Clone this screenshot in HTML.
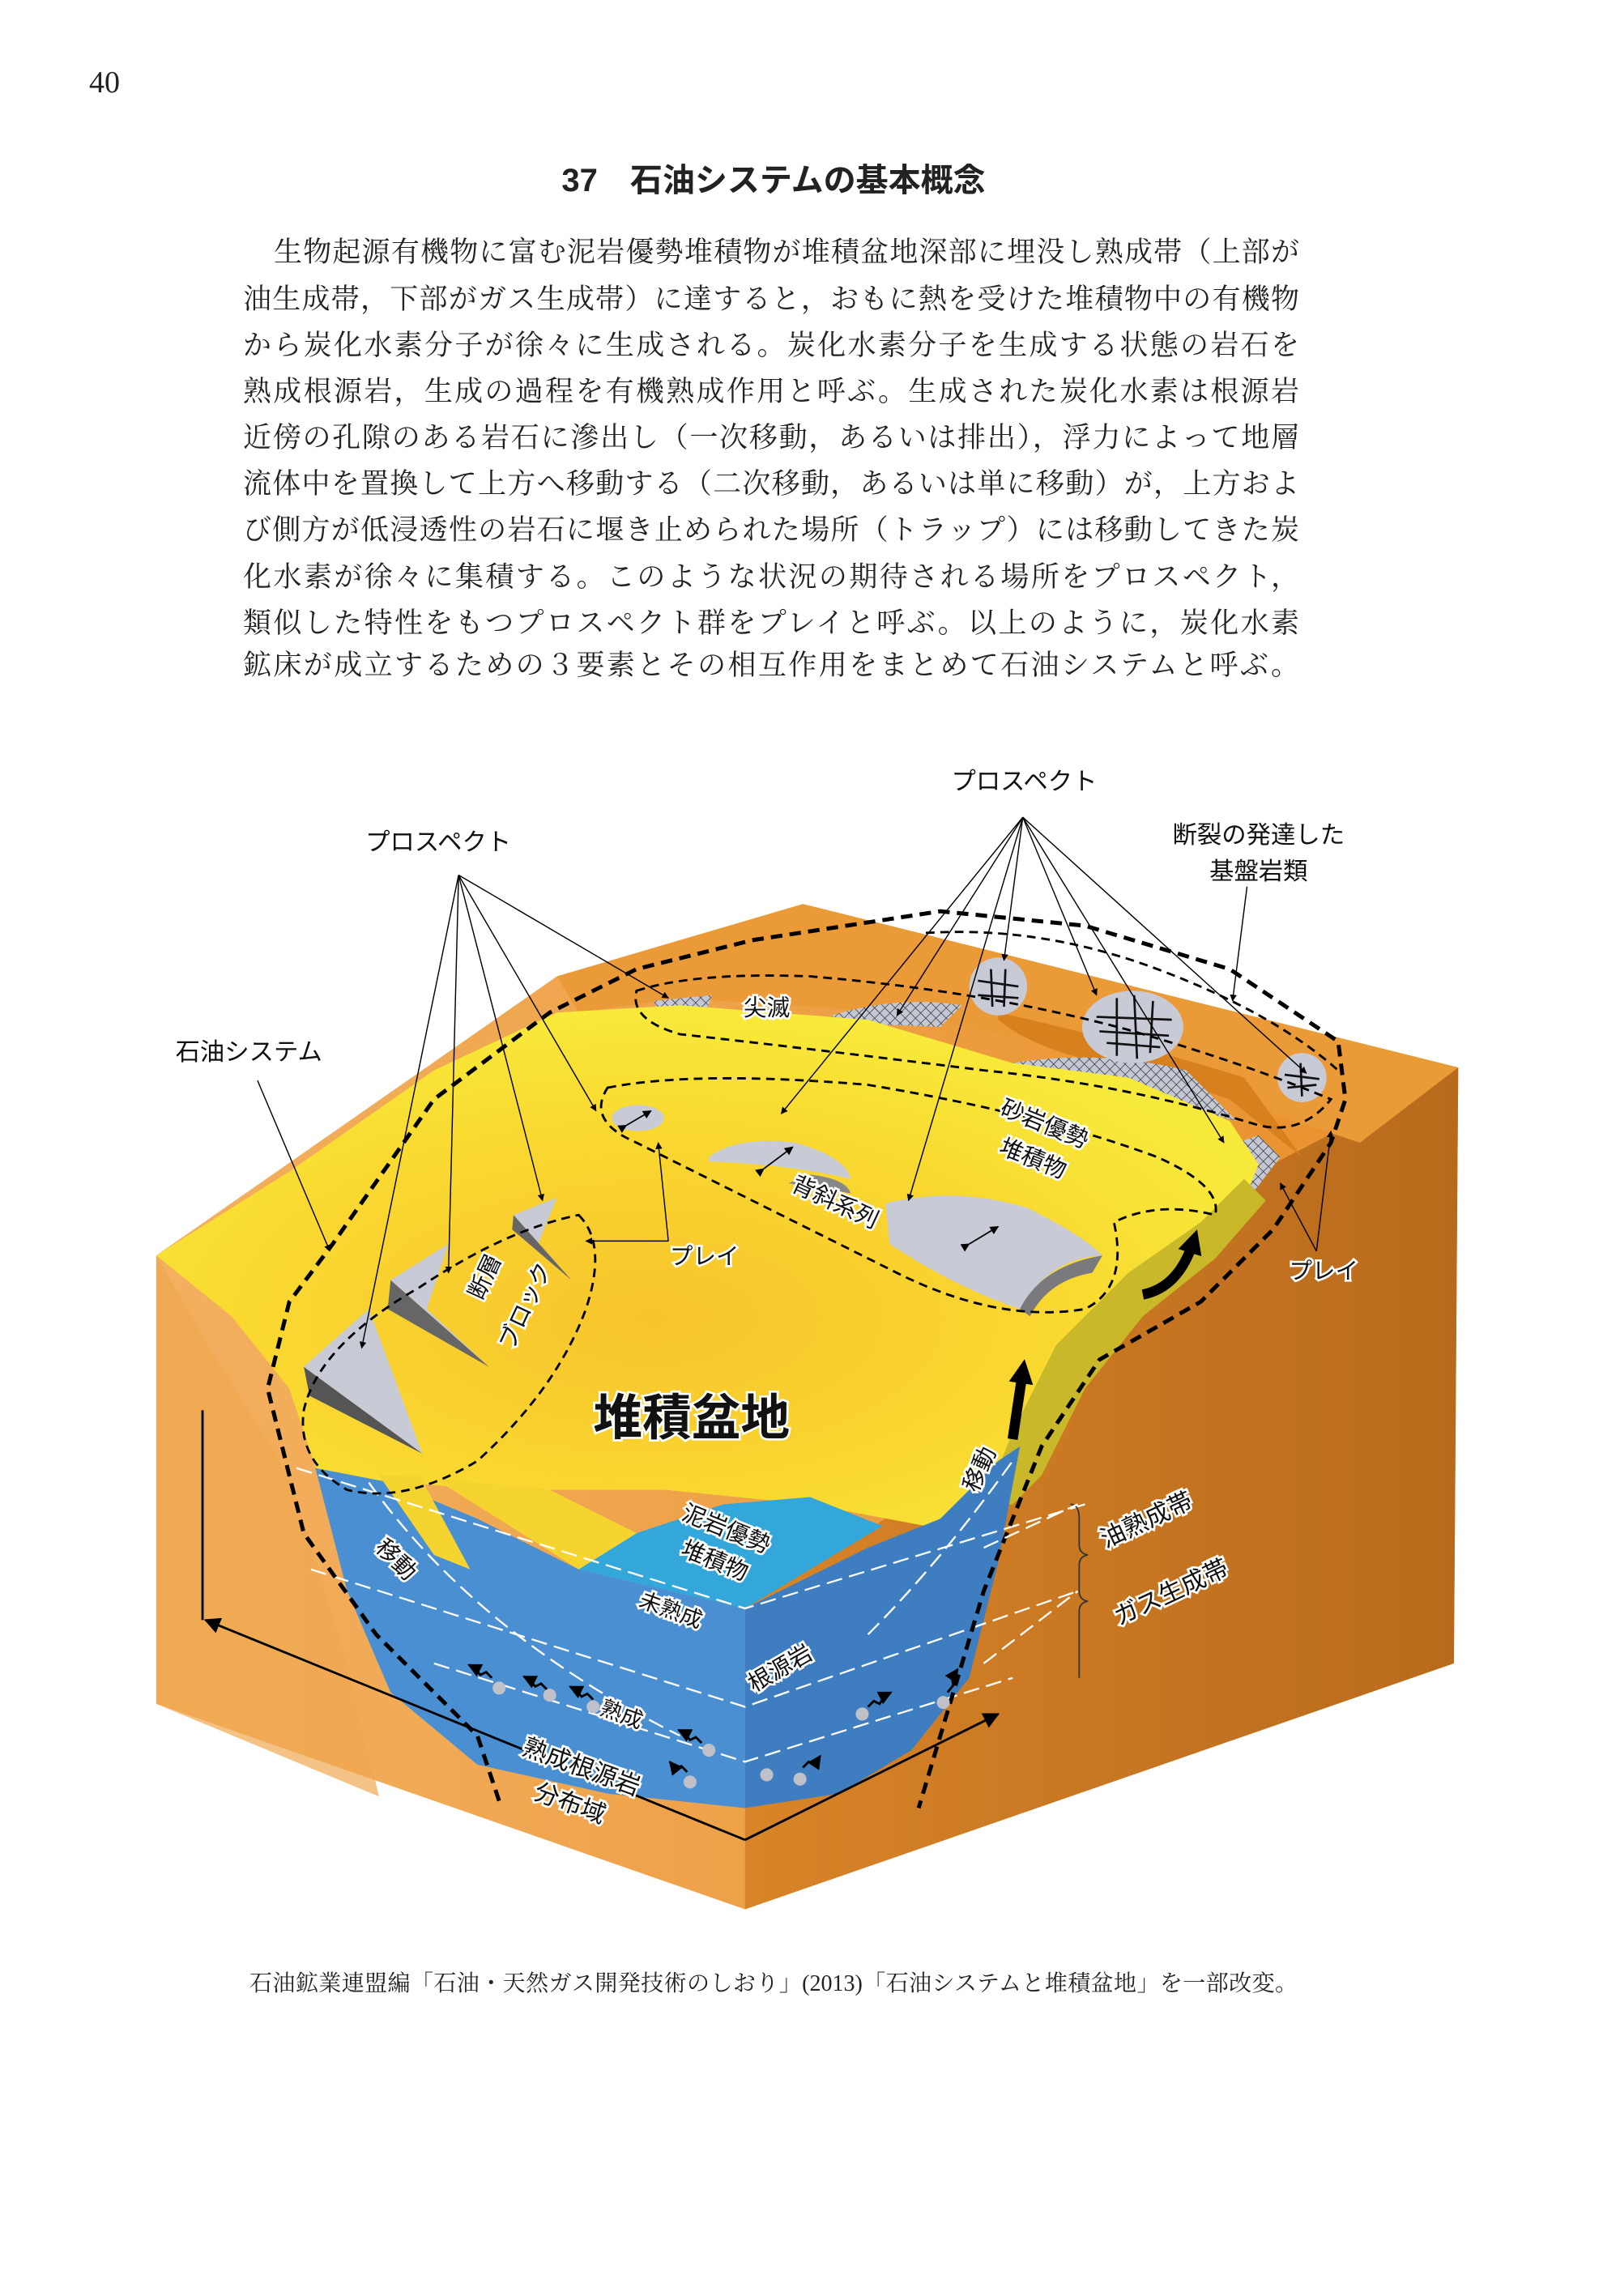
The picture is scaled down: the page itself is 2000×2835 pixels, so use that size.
<!DOCTYPE html>
<html><head><meta charset="utf-8">
<style>
body{margin:0;background:#fff;}
#pg{position:relative;width:2000px;height:2835px;overflow:hidden;background:#fff;font-family:"Liberation Serif","Noto Serif CJK SC",serif;color:#222;}
.num{position:absolute;left:110px;top:80px;font-size:38px;}
.ttl{position:absolute;left:0;width:1910px;text-align:center;top:190px;font-family:"Liberation Sans","Noto Sans CJK JP",sans-serif;font-weight:bold;font-size:40px;}
.ln{position:absolute;left:300px;width:1304px;font-size:35px;line-height:44px;height:44px;text-align:justify;text-align-last:justify;}
.cap{position:absolute;left:308px;width:1294px;top:2432px;font-size:28px;line-height:36px;text-align:justify;text-align-last:justify;}
svg text{font-family:"Liberation Sans","Noto Sans CJK JP",sans-serif;}
</style></head><body><div id="pg">
<div class="num">40</div>
<div class="ttl">37　石油システムの基本概念</div>
<div class="ln" style="top:290px;left:338px;width:1266px">生物起源有機物に富む泥岩優勢堆積物が堆積盆地深部に埋没し熟成帯（上部が</div>
<div class="ln" style="top:348px">油生成帯，下部がガス生成帯）に達すると，おもに熱を受けた堆積物中の有機物</div>
<div class="ln" style="top:405px">から炭化水素分子が徐々に生成される。炭化水素分子を生成する状態の岩石を</div>
<div class="ln" style="top:462px">熟成根源岩，生成の過程を有機熟成作用と呼ぶ。生成された炭化水素は根源岩</div>
<div class="ln" style="top:519px">近傍の孔隙のある岩石に滲出し（一次移動，あるいは排出），浮力によって地層</div>
<div class="ln" style="top:576px">流体中を置換して上方へ移動する（二次移動，あるいは単に移動）が，上方およ</div>
<div class="ln" style="top:633px">び側方が低浸透性の岩石に堰き止められた場所（トラップ）には移動してきた炭</div>
<div class="ln" style="top:691px">化水素が徐々に集積する。このような状況の期待される場所をプロスペクト，</div>
<div class="ln" style="top:748px">類似した特性をもつプロスペクト群をプレイと呼ぶ。以上のように，炭化水素</div>
<div class="ln" style="top:800px">鉱床が成立するための３要素とその相互作用をまとめて石油システムと呼ぶ。</div>

<svg width="2000" height="2835" style="position:absolute;left:0;top:0">
<defs>
<linearGradient id="lf" x1="0" x2="1"><stop offset="0" stop-color="#f3b060"/><stop offset="1" stop-color="#e8902a"/></linearGradient>
<linearGradient id="rf" x1="0" x2="1"><stop offset="0" stop-color="#d88428"/><stop offset="1" stop-color="#b86a1c"/></linearGradient>
<radialGradient id="yb" cx="0.45" cy="0.6" r="0.6"><stop offset="0" stop-color="#f8c42c"/><stop offset="0.6" stop-color="#f9d830"/><stop offset="1" stop-color="#f8ea3a"/></radialGradient>
<pattern id="hx" width="5" height="5" patternUnits="userSpaceOnUse" patternTransform="rotate(45)"><rect width="5" height="5" fill="#c4c8d4"/><path d="M0 0H5M0 0V5" stroke="#333" stroke-width="0.8"/></pattern>
<marker id="ah" viewBox="0 0 10 10" refX="9" refY="5" markerWidth="7" markerHeight="7" orient="auto"><path d="M0 0L10 5L0 10z" fill="#000"/></marker>
<marker id="ab" viewBox="0 0 10 10" refX="9" refY="5" markerWidth="6" markerHeight="6" orient="auto"><path d="M0 0L10 5L0 10z" fill="#000"/></marker>
<marker id="bg" viewBox="0 0 10 10" refX="5" refY="5" markerWidth="2.4" markerHeight="2.4" orient="auto"><path d="M0 0L10 5L0 10z" fill="#000"/></marker>
</defs>
<g transform="scale(1.786)">
<!-- block -->
<polygon points="108,868 385,675 555,625 1008,738 1005,1150 515,1320 108,1178" fill="url(#lf)"/>
<polygon points="515,1112 690,1000 760,900 870,810 1008,738 1005,1150 515,1320" fill="url(#rf)"/>
<polygon points="385,675 555,625 1008,738 940,790 880,770 760,730 620,700 470,690 400,700" fill="#eb9a38"/>
<path d="M690,705 Q720,730 790,740 L850,760 L900,800 L860,745 Q780,720 690,700Z" fill="#d7801e"/>
<path d="M108,868 L108,1178 L262,1242 L240,1150 L200,1020 L150,940Z" fill="#f0a850" opacity="0.7"/>
<!-- hatch -->
<path d="M452,692 L492,688 L488,700 L455,700Z" fill="url(#hx)"/>
<path d="M575,702 Q620,688 665,695 L650,710 Q610,708 575,708Z" fill="url(#hx)"/>
<path d="M700,735 Q760,725 820,740 L855,775 Q800,760 700,745Z" fill="url(#hx)"/>
<path d="M840,795 L870,785 L885,800 L862,830 L845,830Z" fill="url(#hx)"/>
<!-- yellow top -->
<polygon points="108,868 200,810 300,740 385,700 470,695 600,705 700,735 780,745 850,775 870,805 860,830 820,860 770,890 720,950 700,1000 680,1040 640,1055 560,1040 460,1030 340,1030 220,1020 200,960 160,910" fill="url(#yb)"/>
<polygon points="860,815 875,830 840,870 790,910 750,960 720,1020 700,1040 680,1040 700,990 730,930 780,880 830,845" fill="#c9b82a"/>
<!-- blue section -->
<polygon points="218,1015 270,1025 330,1050 400,1085 515,1112 515,1250 420,1240 330,1220 270,1170 240,1100" fill="#4a8fd2"/>
<polygon points="515,1112 600,1070 650,1050 690,1010 705,1000 690,1080 670,1160 630,1210 580,1240 515,1250" fill="#3e7dc0"/>
<polygon points="400,1085 440,1060 500,1040 560,1035 610,1055 515,1112" fill="#33a6da"/>
<polygon points="262,1020 290,1020 325,1085 300,1075" fill="#f6d430"/>
<polygon points="300,1022 400,1085 440,1060 380,1030" fill="#f6d430"/>
<!-- white dashes -->
<g stroke="#fff" stroke-width="1.3" fill="none" stroke-dasharray="11 5">
<path d="M205,1015 L515,1112 L750,1040"/><path d="M215,1085 L515,1180 L745,1100"/><path d="M300,1150 L515,1218 L700,1160"/>
<path d="M255,1025 Q330,1130 470,1200"/><path d="M600,1130 Q650,1080 700,1010"/>
</g>
<!-- gray prospects -->
<ellipse cx="441" cy="773" rx="18" ry="9" fill="#c8cad6"/>
<path d="M490,800 Q510,785 550,790 Q585,800 588,815 Q545,805 490,803Z" fill="#c8cad6"/><path d="M560,812 Q585,815 588,825 L545,818Z" fill="#888"/>
<path d="M612,832 Q660,820 710,835 Q750,855 762,868 Q725,870 705,905 Q660,890 615,860Z" fill="#c8cad6"/>
<path d="M705,905 Q720,875 762,868 L755,880 Q725,885 712,910Z" fill="#7a7a7e"/>
<polygon points="210,945 255,905 292,1005" fill="#c8cad6"/><polygon points="210,945 214,965 292,1005" fill="#555"/>
<polygon points="270,885 310,860 295,905 338,945" fill="#c8cad6"/><polygon points="270,885 268,905 338,945" fill="#666"/>
<polygon points="355,840 385,828 372,860 395,885" fill="#c8cad6"/><polygon points="355,840 354,850 395,885" fill="#666"/>
<!-- basement rocks -->
<g fill="#c8cad6"><circle cx="690" cy="682" r="20"/><ellipse cx="783" cy="710" rx="35" ry="25"/><circle cx="900" cy="745" r="17"/></g>
<g stroke="#111" stroke-width="1.5" fill="none">
<path d="M676,678 L704,682 M676,688 L704,690 M685,670 L686,696 M695,670 L694,696"/>
<path d="M758,703 L810,705 M760,713 L808,716 M765,721 L802,724 M772,690 L772,730 M784,688 L786,732 M797,692 L795,728"/>
<path d="M888,743 L912,746 M890,752 L910,750 M899,735 L900,758"/>
</g>
<!-- dashed boundaries -->
<path d="M345,1245 L330,1200 L260,1130 L210,1060 L185,960 L200,900 L230,860 L300,760 L380,700 L440,670 L520,650 L650,630 L750,640 L850,670 L925,720 L930,760 L920,790 L880,850 L830,900 L760,940 L720,1000 L680,1100 L650,1200 L635,1250" fill="none" stroke="#000" stroke-width="2.8" stroke-dasharray="8 5"/>
<path d="M640,645 Q720,640 800,670 Q880,700 925,740" fill="none" stroke="#000" stroke-width="1.6" stroke-dasharray="6 4"/>
<path d="M440,685 Q480,672 560,675 Q680,685 780,712 Q860,735 920,760 Q900,785 870,778 Q780,750 680,740 Q560,725 470,715 Q435,705 440,685Z" fill="none" stroke="#000" stroke-width="1.6" stroke-dasharray="6 4"/>
<path d="M420,752 Q480,740 600,750 Q720,770 800,800 Q845,820 840,840 Q800,830 770,845 Q780,890 750,905 Q690,915 620,880 Q530,835 440,790 Q405,775 420,752Z" fill="none" stroke="#000" stroke-width="1.6" stroke-dasharray="6 4"/>
<path d="M400,840 Q420,860 405,905 Q385,960 330,1010 Q280,1040 240,1030 Q205,1010 210,975 Q220,930 290,890 Q350,850 400,840Z" fill="none" stroke="#000" stroke-width="1.6" stroke-dasharray="6 4"/>
<!-- leaders -->
<g stroke="#000" stroke-width="0.8" fill="none" marker-end="url(#ab)">
<path d="M317,605 L250,932"/><path d="M317,605 L310,880"/><path d="M317,605 L375,830"/><path d="M317,605 L412,768"/><path d="M317,605 L462,690"/>
<path d="M707,565 L540,770"/><path d="M707,565 L628,830"/><path d="M707,565 L694,664"/><path d="M707,565 L758,688"/><path d="M707,565 L903,742"/><path d="M707,565 L620,702"/><path d="M707,565 L846,790"/>
<path d="M178,747 L228,865"/><path d="M862,613 L852,692"/>
<path d="M462,858 L455,790"/><path d="M462,858 L405,858"/>
<path d="M910,865 L920,782"/><path d="M910,865 L885,818"/>
</g>
<!-- small double arrows -->
<g stroke="#000" stroke-width="1" marker-end="url(#ab)" marker-start="url(#ab)"><path d="M433,778 L450,768"/><path d="M528,808 L548,793"/><path d="M670,860 L690,848"/></g>
<!-- big black arrows -->
<path d="M700,995 L707,948" stroke="#000" stroke-width="7" marker-end="url(#bg)" fill="none"/>
<path d="M790,895 Q815,890 825,858" stroke="#000" stroke-width="7" marker-end="url(#bg)" fill="none"/>
<!-- squiggles -->
<g stroke="#000" stroke-width="1.6" fill="none" marker-end="url(#ab)">
<path d="M340,1160 l-4,-4 l-4,2 l-4,-5 l-4,-2"/><path d="M378,1168 l-4,-4 l-4,2 l-4,-5 l-4,-2"/><path d="M410,1175 l-4,-4 l-4,2 l-4,-5 l-4,-2"/>
<path d="M485,1205 l-4,-4 l-4,2 l-4,-5 l-4,-2"/><path d="M475,1225 l-4,-4 l-4,2 l-4,-5"/>
<path d="M555,1222 l4,-4 l4,2 l4,-6"/><path d="M600,1180 l4,-4 l4,2 l4,-6 l4,-2"/><path d="M655,1170 l4,-5 l-1,-5 l4,-6"/>
</g>
<g fill="#c0c0c8"><circle cx="345" cy="1167" r="4.5"/><circle cx="380" cy="1172" r="4.5"/><circle cx="410" cy="1180" r="4.5"/><circle cx="490" cy="1210" r="4.5"/><circle cx="477" cy="1232" r="4.5"/><circle cx="530" cy="1227" r="4.5"/><circle cx="553" cy="1230" r="4.5"/><circle cx="596" cy="1185" r="4.5"/><circle cx="652" cy="1177" r="4.5"/></g>
<!-- bottom arrows -->
<path d="M140,975 L140,1120" stroke="#000" stroke-width="1.6"/>
<path d="M515,1272 L142,1120" stroke="#000" stroke-width="1.6" marker-end="url(#ah)" fill="none"/>
<path d="M515,1272 L690,1185" stroke="#000" stroke-width="1.6" marker-end="url(#ah)" fill="none"/>
<!-- brace -->
<path d="M740,1040 Q746,1040 746,1050 L746,1068 Q746,1074 752,1075 Q746,1076 746,1082 L746,1100 Q746,1106 752,1107 Q746,1108 746,1114 L746,1160" stroke="#333" stroke-width="1" fill="none"/>
<path d="M680,1070 L745,1040 M680,1150 L745,1100" stroke="#fff" stroke-width="1.3" stroke-dasharray="11 5"/>
<!-- labels -->
<g font-size="17" fill="#111" text-anchor="middle">
<text x="303" y="588">プロスペクト</text>
<text x="708" y="546">プロスペクト</text>
<text x="870" y="583">断裂の発達した</text>
<text x="870" y="608">基盤岩類</text>
<text x="172" y="733">石油システム</text>
</g>
<g font-size="16" fill="#111" stroke="#fff" stroke-width="3" paint-order="stroke" text-anchor="middle">
<text x="487" y="874">プレイ</text>
<text x="915" y="884">プレイ</text>
<text x="530" y="702">尖滅</text>
<text transform="translate(720,782) rotate(22)">砂岩優勢</text>
<text transform="translate(712,806) rotate(22)">堆積物</text>
<text transform="translate(575,836) rotate(25)">背斜系列</text>
<text transform="translate(340,885) rotate(-65)">断層</text>
<text transform="translate(368,905) rotate(-65)">ブロック</text>
<text transform="translate(500,1062) rotate(22)">泥岩優勢</text>
<text transform="translate(492,1084) rotate(22)">堆積物</text>
<text transform="translate(270,1082) rotate(45)">移動</text>
<text transform="translate(682,1018) rotate(-65)">移動</text>
<text transform="translate(462,1118) rotate(20)" font-size="15">未熟成</text>
<text transform="translate(428,1190) rotate(20)" font-size="15">熟成</text>
<text transform="translate(542,1158) rotate(-30)">根源岩</text>
<text transform="translate(400,1227) rotate(20)" font-size="17">熟成根源岩</text>
<text transform="translate(392,1252) rotate(20)" font-size="17">分布域</text>
<text transform="translate(795,1056) rotate(-25)" font-size="17">油熟成帯</text>
<text transform="translate(812,1106) rotate(-25)" font-size="17">ガス生成帯</text>
</g>
<text x="478" y="992" text-anchor="middle" font-size="34" font-weight="bold" fill="#111" stroke="#fff" stroke-width="3" paint-order="stroke">堆積盆地</text>
</g>
</svg>
<div class="cap">石油鉱業連盟編「石油・天然ガス開発技術のしおり」(2013)「石油システムと堆積盆地」を一部改変。</div>
</div></body></html>
